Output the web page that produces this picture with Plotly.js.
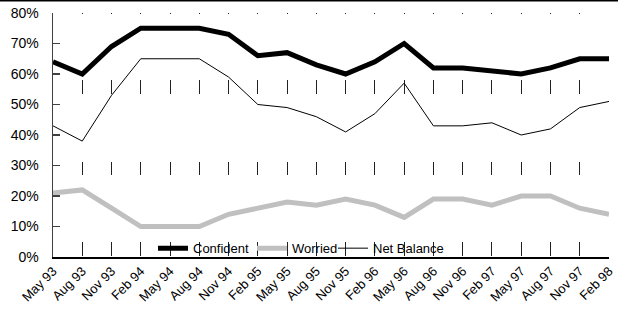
<!DOCTYPE html>
<html>
<head>
<meta charset="utf-8">
<script src="https://cdn.plot.ly/plotly-3.0.1.min.js"></script>
<style>html,body{margin:0;padding:0;background:#fff;}#chart{width:618px;height:315px;}</style>
</head>
<body>
<div id="chart"></div>
<script>
const categories = ["May 93","Aug 93","Nov 93","Feb 94","May 94","Aug 94","Nov 94","Feb 95","May 95","Aug 95","Nov 95","Feb 96","May 96","Aug 96","Nov 96","Feb 97","May 97","Aug 97","Nov 97","Feb 98"];
const confident = [64,60,69,75,75,75,73,66,67,63,60,64,70,62,62,61,60,62,65,65];
const worried = [21,22,16,10,10,10,14,16,18,17,19,17,13,19,19,17,20,20,16,14];
const netBalance = [43,38,53,65,65,65,59,50,49,46,41,47,57,43,43,44,40,42,49,51];
const yTicks = [0,10,20,30,40,50,60,70,80];
const yTickLabels = ["0%","10%","20%","30%","40%","50%","60%","70%","80%"];

const traces = [
  {x: categories, y: confident, name: "Confident", type: "scatter", mode: "lines",
   line: {color: "#000000", width: 5}, legend: "legend"},
  {x: categories, y: worried, name: "Worried", type: "scatter", mode: "lines",
   line: {color: "#c0c0c0", width: 5}, legend: "legend2"},
  {x: categories, y: netBalance, name: "Net Balance", type: "scatter", mode: "lines",
   line: {color: "#000000", width: 1}, legend: "legend3"}
];

const legFont = {family: "Liberation Sans, Arial, sans-serif", size: 13, color: "#000"};
const legBase = {orientation: "h", yanchor: "middle", y: 0.036, xanchor: "left",
  bgcolor: "rgba(0,0,0,0)", borderwidth: 0, font: legFont, itemwidth: 30};

const layout = {
  width: 618, height: 315,
  margin: {l: 53, r: 9, t: 13, b: 58},
  paper_bgcolor: "#ffffff", plot_bgcolor: "#ffffff",
  font: {family: "Liberation Sans, Arial, sans-serif", size: 13, color: "#000"},
  showlegend: true,
  legend: Object.assign({}, legBase, {x: (153-53)/556}),
  legend2: Object.assign({}, legBase, {x: (252-53)/556}),
  legend3: Object.assign({}, legBase, {x: (333-53)/556}),
  xaxis: {
    type: "category", range: [0, categories.length - 1],
    showline: true, linecolor: "#000", linewidth: 1.5,
    showgrid: true, gridcolor: "#222", gridwidth: 1,
    griddash: "1px,66px,14px,68px,13px,67px,14px,40px",
    ticks: "", tickangle: -45, tickfont: {size: 13, color: "#000"},
    zeroline: false, fixedrange: true
  },
  yaxis: {
    range: [0, 80], tickvals: yTicks, ticktext: yTickLabels,
    showline: true, linecolor: "#404040", linewidth: 1.5,
    showgrid: false, zeroline: false,
    ticks: "inside", ticklen: 7, tickcolor: "#404040", tickwidth: 1.5,
    ticklabelstandoff: 10,
    tickfont: {size: 14, color: "#000"}, fixedrange: true
  },
  shapes: [
    {type: "line", xref: "paper", yref: "paper", x0: -0.2, x1: 1.1,
     y0: (257 - 0.5) / 244, y1: (257 - 0.5) / 244, line: {color: "#000", width: 2}}
  ]
};

Plotly.newPlot("chart", traces, layout, {displayModeBar: false, staticPlot: true});
</script>
</body>
</html>
